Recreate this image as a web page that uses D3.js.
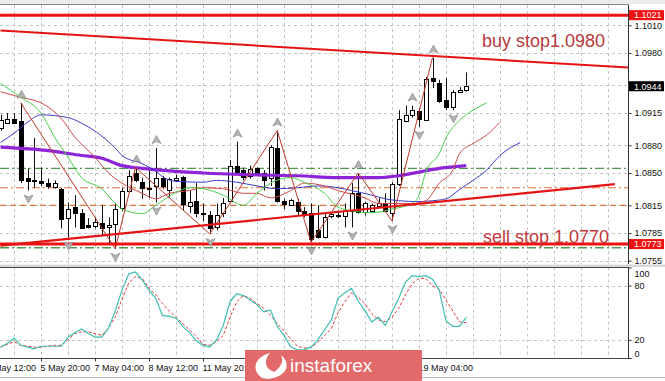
<!DOCTYPE html>
<html>
<head>
<meta charset="utf-8">
<script src="https://cdn.jsdelivr.net/npm/d3@7"></script>
<style>
body { margin: 0; background: #fff; }
text { font-family: "Liberation Sans", Arial, sans-serif; }
</style>
</head>
<body>
<svg width="665" height="381"></svg>
<script>
// EURUSD H4, bars 0..69
var open  = [1.0898,1.0905,1.0909,1.0906,1.0845,1.0842,1.0841,1.0839,1.0835,1.0833,
             1.0801,1.0813,1.0807,1.0794,1.0793,1.0796,1.0792,1.0795,1.0813,1.0831,
             1.0850,1.0840,1.0834,1.0836,1.0845,1.0831,1.0843,1.0846,1.0815,1.0820,
             1.0807,1.0805,1.0791,1.0806,1.0820,1.0858,1.0853,1.0846,1.0855,1.0850,
             1.0844,1.0877,1.0820,1.0816,1.0819,1.0809,1.0807,1.0788,1.0780,1.0804,
             1.0805,1.0804,1.0809,1.0828,1.0807,1.0809,1.0815,1.0818,1.0807,1.0838,
             1.0907,1.0913,1.0917,1.0908,1.0953,1.0948,1.0929,1.0922,1.0938,1.0940];
var high  = [1.0913,1.0915,1.0915,1.0926,1.0855,1.0888,1.0856,1.0844,1.0842,1.0834,
             1.0818,1.0826,1.0811,1.0801,1.0802,1.0815,1.0802,1.0817,1.0834,1.0853,
             1.0856,1.0845,1.0853,1.0877,1.0847,1.0845,1.0848,1.0847,1.0831,1.0839,
             1.0817,1.0809,1.0817,1.0823,1.0864,1.0884,1.0856,1.0858,1.0856,1.0853,
             1.0880,1.0896,1.0822,1.0822,1.0822,1.0813,1.0817,1.0815,1.0806,1.0808,
             1.0809,1.0817,1.0839,1.0850,1.0819,1.0817,1.0823,1.0828,1.0840,1.0918,
             1.0923,1.0923,1.0920,1.0954,1.0975,1.0951,1.0953,1.0940,1.0943,1.0959];
var low   = [1.0896,1.0904,1.0904,1.0839,1.0831,1.0834,1.0836,1.0833,1.0833,1.0790,
             1.0780,1.0791,1.0790,1.0790,1.0790,1.0782,1.0773,1.0768,1.0809,1.0829,
             1.0840,1.0822,1.0823,1.0818,1.0833,1.0823,1.0840,1.0809,1.0807,1.0802,
             1.0798,1.0784,1.0788,1.0802,1.0818,1.0850,1.0842,1.0844,1.0847,1.0831,
             1.0836,1.0818,1.0811,1.0815,1.0804,1.0802,1.0775,1.0779,1.0779,1.0801,
             1.0801,1.0791,1.0791,1.0806,1.0804,1.0807,1.0813,1.0809,1.0798,1.0836,
             1.0905,1.0910,1.0900,1.0907,1.0942,1.0926,1.0918,1.0918,1.0937,1.0938];
var close = [1.0907,1.0909,1.0905,1.0842,1.0842,1.0841,1.0839,1.0836,1.0839,1.0801,
             1.0811,1.0806,1.0791,1.0792,1.0797,1.0791,1.0794,1.0811,1.0831,1.0847,
             1.0842,1.0833,1.0834,1.0845,1.0836,1.0843,1.0845,1.0817,1.0819,1.0807,
             1.0806,1.0791,1.0804,1.0817,1.0858,1.0851,1.0845,1.0854,1.0850,1.0842,
             1.0878,1.0820,1.0817,1.0821,1.0809,1.0806,1.0779,1.0780,1.0802,1.0806,
             1.0805,1.0809,1.0828,1.0807,1.0817,1.0815,1.0818,1.0809,1.0838,1.0908,
             1.0913,1.0918,1.0908,1.0952,1.0950,1.0928,1.0921,1.0938,1.0940,1.0944];

// moving averages, [bar, price]
var maPurple = [[0,1.0878],[6,1.0875],[12,1.0869],[15,1.0866],[18,1.0858],[21,1.0855],[30,1.0850],
                [38,1.0848],[44,1.0847],[50,1.0845],[56,1.0845],[59,1.0847],[62,1.0851],[65,1.0855],[69,1.0858]];
var jaw   = [[0,1.0883],[2,1.0893],[4,1.0905],[6,1.0913],[10,1.0910],[12,1.0904],[15,1.0890],[17,1.0877],
             [18,1.0869],[21,1.0860],[23,1.0852],[24,1.0846],[26,1.0841],[30,1.0840],[32,1.0842],[35,1.0840],
             [38,1.0836],[41,1.0833],[44,1.0834],[47,1.0836],[50,1.0834],[52,1.0831],[55,1.0826],[57,1.0822],
             [59,1.0820],[62,1.0819],[64,1.0820],[66,1.0822],[68,1.0832],[70,1.0842],[72,1.0853],[74,1.0869],[77,1.0883]];
var teeth = [[0,1.0938],[3,1.0932],[6,1.0926],[9,1.0909],[11,1.0889],[14,1.0867],[16,1.0850],[18,1.0839],
             [21,1.0828],[23,1.0822],[25,1.0828],[28,1.0831],[30,1.0834],[33,1.0833],[36,1.0828],[38,1.0828],
             [40,1.0823],[43,1.0831],[45,1.0839],[48,1.0836],[50,1.0831],[54,1.0823],[56,1.0817],[61,1.0817],
             [63,1.0820],[65,1.0839],[67,1.0853],[68,1.0871],[70,1.0882],[72,1.0891],[74,1.0905]];
var lips  = [[0,1.0947],[3,1.0932],[6,1.0915],[8,1.0889],[10,1.0867],[12,1.0845],[15,1.0833],[17,1.0817],
             [18,1.0811],[21,1.0806],[23,1.0815],[26,1.0829],[28,1.0834],[30,1.0833],[33,1.0826],[36,1.0815],
             [38,1.0828],[40,1.0839],[43,1.0845],[45,1.0840],[48,1.0828],[50,1.0813],[52,1.0809],[55,1.0807],
             [58,1.0811],[61,1.0817],[62,1.0826],[63,1.0851],[65,1.0871],[66,1.0888],[68,1.0907],[70,1.0918],[72,1.0926]];

var zigzagBars = [3, 17, 20, 31, 41, 46, 53, 58, 64];
var zigzagKind = ["H","L","H","L","H","L","H","L","H"];
var upFractals = [3, 20, 23, 35, 41, 53, 61, 64];
var downFractals = [4, 10, 17, 23, 31, 46, 52, 58, 62, 67];

// horizontal levels and trend lines
var redLevels = [1.1021, 1.0773];
var greenLevels = [1.0855, 1.0769];
var orangeDashDot = [1.0834];
var orangeDash = [1.0815];
var upperTrend = [[0, 1.10045], [93, 1.09642]];
var lowerTrend = [[0, 1.07713], [91, 1.08380]];

// stochastic
var stochK = [12,16,22,14,12,10,13,13,13,13, 23,28,32,27,23,23,33,52,75,93,
              95,86,75,66,47,46,44,35,28,19, 14,12,20,36,62,71,69,64,59,51,
              53,35,25,12,9,9,12,20,31,42, 66,72,77,63,52,40,45,36,51,66,
              84,91,90,91,87,75,41,35,35,45];
var stochD = [12,15,18,14,13,12,12,13,14,14, 20,27,29,29,27,25,33,45,65,83,
              90,88,77,70,60,52,45,38,31,24, 15,14,18,25,45,62,69,66,60,55,
              47,38,30,21,13,11,12,17,25,32, 50,62,72,67,60,49,42,40,45,55,
              70,82,88,88,80,76,64,52,40,39];

var priceTicks = [1.1010, 1.0980, 1.0945, 1.0915, 1.0880, 1.0850, 1.0815, 1.0785, 1.0755];
var timeBars = [-2, 6, 14, 22, 30, 38, 46, 54, 62];
var timeLabels = ["4 May 12:00","5 May 20:00","7 May 04:00","8 May 12:00","11 May 20:00",
                  "13 May 04:00","14 May 12:00","15 May 20:00","19 May 04:00"];
var stochTicks = [0, 20, 80, 100];

var svg = d3.select("svg");
var width = +svg.attr("width");
var height = +svg.attr("height");

var plotRight = 628;
var mainTop = 5, mainBottom = 264;
var subTop = 267.5, subBottom = 358;

var x = d3.scaleLinear().domain([0, 69]).range([0.5, 466.25]);
var y = d3.scaleLinear().domain([1.0980, 1.0785]).range([53, 233]);
var ys = d3.scaleLinear().domain([0, 100]).range([subBottom, subTop]);

svg.append("rect").attr("width", width).attr("height", height).attr("fill", "#fff");
svg.append("rect").attr("width", width).attr("height", 4).attr("fill", "#ececec");

var defs = svg.append("defs");
defs.append("clipPath").attr("id", "clipMain").append("rect")
    .attr("x", 0).attr("y", mainTop).attr("width", plotRight).attr("height", mainBottom - mainTop);
defs.append("clipPath").attr("id", "clipSub").append("rect")
    .attr("x", 0).attr("y", subTop).attr("width", plotRight).attr("height", subBottom - subTop);

var main = svg.append("g").attr("clip-path", "url(#clipMain)");
var sub = svg.append("g").attr("clip-path", "url(#clipSub)");

var gridBars = d3.range(2, 94, 4);
function px(i) { return Math.round(x(i)) + 0.5; }

// grid
main.selectAll(".vgrid").data(gridBars).enter().append("line")
    .attr("x1", px).attr("x2", px).attr("y1", mainTop).attr("y2", mainBottom)
    .attr("stroke", "#c4c4c4").attr("stroke-dasharray", "3,3");
main.selectAll(".hgrid").data(priceTicks).enter().append("line")
    .attr("x1", 0).attr("x2", plotRight)
    .attr("y1", function(d) { return Math.round(y(d)) + 0.5; })
    .attr("y2", function(d) { return Math.round(y(d)) + 0.5; })
    .attr("stroke", "#c4c4c4").attr("stroke-dasharray", "3,3");
sub.selectAll(".vgrid").data(gridBars).enter().append("line")
    .attr("x1", px).attr("x2", px).attr("y1", subTop).attr("y2", subBottom)
    .attr("stroke", "#c4c4c4").attr("stroke-dasharray", "3,3");
sub.selectAll(".hgrid").data([20, 80]).enter().append("line")
    .attr("x1", 0).attr("x2", plotRight)
    .attr("y1", function(d) { return Math.round(ys(d)) + 0.5; })
    .attr("y2", function(d) { return Math.round(ys(d)) + 0.5; })
    .attr("stroke", "#c4c4c4").attr("stroke-dasharray", "3,3");

// levels
function hline(g, prices, color, w, dash) {
    g.selectAll(null).data(prices).enter().append("line")
        .attr("x1", 0).attr("x2", plotRight)
        .attr("y1", function(d) { return y(d); }).attr("y2", function(d) { return y(d); })
        .attr("stroke", color).attr("stroke-width", w)
        .attr("stroke-dasharray", dash);
}
hline(main, greenLevels, "#4f9a4f", 1.3, "9,3,2,3");
hline(main, orangeDashDot, "#e0763e", 1.2, "8,3,2,3");
hline(main, orangeDash, "#e0763e", 1.2, "6,4");

// candles
var bars = d3.range(open.length);
main.selectAll(".wick").data(bars).enter().append("line")
    .attr("x1", px).attr("x2", px)
    .attr("y1", function(i) { return y(high[i]); })
    .attr("y2", function(i) { return y(low[i]); })
    .attr("stroke", "#111").attr("stroke-width", 1);
main.selectAll(".body").data(bars).enter().append("rect")
    .attr("x", function(i) { return Math.round(x(i)) - 1.5; })
    .attr("width", 4)
    .attr("y", function(i) { return Math.round(y(Math.max(open[i], close[i]))) + 0.5; })
    .attr("height", function(i) { return Math.max(1, Math.round(Math.abs(y(open[i]) - y(close[i])))); })
    .attr("fill", function(i) { return close[i] >= open[i] ? "#fff" : "#000"; })
    .attr("stroke", "#000").attr("stroke-width", 1);

// moving averages
var curve = d3.line()
    .x(function(d) { return x(d[0]); })
    .y(function(d) { return y(d[1]); })
    .curve(d3.curveMonotoneX);
main.append("path").attr("d", curve(maPurple)).attr("fill", "none")
    .attr("stroke", "#8e24d8").attr("stroke-width", 3.2);
main.append("path").attr("d", curve(jaw)).attr("fill", "none")
    .attr("stroke", "#3c3cc8").attr("stroke-width", 1);
main.append("path").attr("d", curve(teeth)).attr("fill", "none")
    .attr("stroke", "#d24a4a").attr("stroke-width", 1);
main.append("path").attr("d", curve(lips)).attr("fill", "none")
    .attr("stroke", "#49d049").attr("stroke-width", 1);

// zigzag
var zz = zigzagBars.map(function(b, k) { return [b, zigzagKind[k] === "H" ? high[b] : low[b]]; });
main.append("path").attr("d", d3.line().x(function(d) { return x(d[0]); }).y(function(d) { return y(d[1]); })(zz))
    .attr("fill", "none").attr("stroke", "#c0392b").attr("stroke-width", 1);

// trend lines and red levels
hline(main, redLevels, "#ee1111", 3, null);
var straight = d3.line().x(function(d) { return x(d[0]); }).y(function(d) { return y(d[1]); });
main.append("path").attr("d", straight(upperTrend)).attr("fill", "none")
    .attr("stroke", "#e41414").attr("stroke-width", 2);
main.append("path").attr("d", straight(lowerTrend)).attr("fill", "none")
    .attr("stroke", "#e41414").attr("stroke-width", 2.2);

// fractals
var arrowUp = "M0,-4.5 L4.5,3.5 L0,1.5 L-4.5,3.5 Z";
var arrowDown = "M0,4.5 L4.5,-3.5 L0,-1.5 L-4.5,-3.5 Z";
main.selectAll(".fup").data(upFractals).enter().append("path")
    .attr("d", arrowUp)
    .attr("transform", function(i) { return "translate(" + px(i) + "," + (y(high[i]) - 8) + ")"; })
    .attr("fill", "#b4b4b4").attr("stroke", "#8a8a8a").attr("stroke-width", 0.7);
main.selectAll(".fdn").data(downFractals).enter().append("path")
    .attr("d", arrowDown)
    .attr("transform", function(i) { return "translate(" + px(i) + "," + (y(low[i]) + 8) + ")"; })
    .attr("fill", "#b4b4b4").attr("stroke", "#8a8a8a").attr("stroke-width", 0.7);

// annotations
main.append("text").attr("x", 482).attr("y", 47).text("buy stop1.0980")
    .attr("font-size", 18).attr("fill", "#b73a3d");
main.append("text").attr("x", 483).attr("y", 243).text("sell stop 1.0770")
    .attr("font-size", 18).attr("fill", "#c23a3d");

// stochastic
var sline = d3.line().x(function(d, i) { return x(i); }).y(function(d) { return ys(d); });
sub.append("path").attr("d", sline(stochD)).attr("fill", "none")
    .attr("stroke", "#e03a3a").attr("stroke-width", 1).attr("stroke-dasharray", "3,2");
sub.append("path").attr("d", sline(stochK)).attr("fill", "none")
    .attr("stroke", "#3fbfb0").attr("stroke-width", 1.2);

// frames
svg.append("line").attr("x1", 0).attr("x2", plotRight + 1).attr("y1", 4.5).attr("y2", 4.5)
    .attr("stroke", "#888");
svg.append("rect").attr("x", 0).attr("y", mainBottom + 0.5).attr("width", width).attr("height", 2.5)
    .attr("fill", "#d8d8d8");
svg.append("line").attr("x1", 0).attr("x2", plotRight + 1).attr("y1", subTop).attr("y2", subTop)
    .attr("stroke", "#444");
svg.append("line").attr("x1", 0).attr("x2", plotRight + 1).attr("y1", subBottom + 0.5).attr("y2", subBottom + 0.5)
    .attr("stroke", "#444");
svg.append("line").attr("x1", 0).attr("x2", width).attr("y1", 377.5).attr("y2", 377.5)
    .attr("stroke", "#bbb");

// price axis
var priceAxis = d3.axisRight(y).tickValues(priceTicks).tickSize(3).tickPadding(3)
    .tickFormat(d3.format(".4f"));
var pa = svg.append("g").attr("transform", "translate(" + (plotRight + 0.5) + ",0)").call(priceAxis);
pa.select(".domain").attr("d", "M0," + mainTop + "V" + mainBottom).attr("stroke", "#333");
pa.selectAll("text").attr("font-size", 9).attr("fill", "#111").attr("font-family", "Liberation Sans, Arial, sans-serif");
pa.selectAll("line").attr("stroke", "#333");

// stochastic axis
var stochAxis = d3.axisRight(ys).tickValues(stochTicks).tickSize(3).tickPadding(3);
var sa = svg.append("g").attr("transform", "translate(" + (plotRight + 0.5) + ",0)").call(stochAxis);
sa.select(".domain").attr("d", "M0," + subTop + "V" + subBottom).attr("stroke", "#333");
sa.selectAll("text").attr("font-size", 9).attr("fill", "#111").attr("font-family", "Liberation Sans, Arial, sans-serif")
    .attr("dy", function(d) { return d === 100 ? "0.95em" : (d === 0 ? "-0.15em" : "0.32em"); });
sa.selectAll("line").attr("stroke", "#333");

// price markers
function marker(price, color) {
    var g = svg.append("g").attr("transform", "translate(" + (plotRight + 1) + "," + y(price) + ")");
    g.append("rect").attr("x", 0).attr("y", -5).attr("width", 35).attr("height", 10).attr("fill", color);
    g.append("text").attr("x", 5).attr("y", 3.3).text(d3.format(".4f")(price))
        .attr("font-size", 9).attr("fill", "#fff");
}
marker(redLevels[0], "#ee1111");
marker(close[close.length - 1], "#000");
marker(redLevels[1], "#ee1111");

// time axis
var timeAxis = d3.axisBottom(x).tickValues(timeBars).tickSize(3).tickPadding(3)
    .tickFormat(function(d, i) { return timeLabels[i]; });
var ta = svg.append("g").attr("transform", "translate(0," + (subBottom + 0.5) + ")").call(timeAxis);
ta.select(".domain").remove();
ta.selectAll("line").attr("stroke", "#333");
ta.selectAll("text").attr("text-anchor", "start").attr("dx", "-1")
    .attr("font-size", 9).attr("fill", "#111").attr("font-family", "Liberation Sans, Arial, sans-serif");

// instaforex badge
var logo = svg.append("g");
logo.append("rect").attr("x", 245).attr("y", 350).attr("width", 177).attr("height", 31)
    .attr("fill", "#e26a6a");
logo.append("path")
    .attr("d", "M262,378 C251,371 254,357 270,353 C264,360 264,368 274,372 C281,367 284,361 281,355 C292,364 287,377 268,379 Z")
    .attr("fill", "#fff");
logo.append("text").attr("x", 290).attr("y", 372).text("instaforex")
    .attr("font-family", "'Open Sans', sans-serif").attr("font-size", 19).attr("fill", "#fff");
</script>
</body>
</html>
